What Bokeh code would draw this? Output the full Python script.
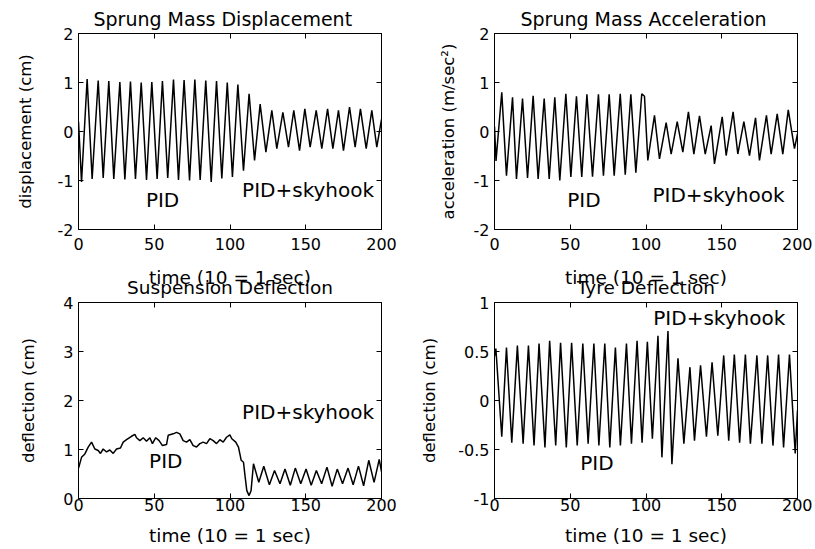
from bokeh.plotting import figure
from bokeh.models import Range1d, FixedTicker, LinearAxis, Label, Title
from bokeh.layouts import column, row
from bokeh.embed import file_html
from bokeh.resources import INLINE

FONT = "DejaVu Sans"

# ---- data (extrema of each trace) ----
disp_t = [0, 2.0, 5.7, 9.0, 13.0, 16.3, 20.0, 23.3, 27.3, 30.6, 34.3, 37.6, 41.4, 44.9, 48.4, 51.9,
          55.4, 58.9, 62.7, 66.0, 69.7, 73.3, 76.8, 80.3, 84.0, 87.6, 91.1, 94.6, 98.2, 101.6, 105.2,
          108.9, 112.6, 116.2, 119.9, 123.7, 127.6, 130.9, 134.9, 138.6, 142.1, 145.9, 149.4, 152.9,
          156.9, 160.6, 164.4, 167.9, 171.6, 174.9, 178.9, 182.6, 186.1, 189.9, 193.6, 196.9, 200]
disp_v = [0.20, -1.03, 1.07, -0.97, 1.04, -0.95, 1.03, -0.97, 1.01, -0.98, 1.02, -0.97, 1.00, -0.99,
          1.01, -0.97, 1.03, -0.95, 1.06, -0.99, 1.05, -1.00, 1.06, -0.99, 1.04, -1.03, 1.03, -0.96,
          1.00, -0.93, 0.96, -0.80, 0.77, -0.59, 0.56, -0.42, 0.43, -0.35, 0.39, -0.32, 0.43, -0.39,
          0.46, -0.32, 0.43, -0.35, 0.46, -0.35, 0.43, -0.39, 0.50, -0.32, 0.46, -0.35, 0.43, -0.32, 0.25]

acc_t = [0, 1.0, 4.8, 7.9, 11.9, 14.5, 18.5, 21.8, 25.5, 28.8, 32.8, 36.1, 39.8, 43.1, 47.1, 50.4,
         54.1, 57.6, 61.0, 64.7, 68.6, 71.9, 75.7, 79.0, 83.0, 86.3, 90.0, 93.3, 97.2, 99.0, 101.2,
         105.6, 108.9, 113.3, 116.6, 120.6, 124.3, 128.0, 131.6, 135.3, 139.1, 143.0, 145.2, 150.3,
         152.9, 157.5, 160.6, 164.6, 168.3, 172.3, 174.9, 179.5, 182.6, 186.6, 190.3, 193.9, 198.0, 200]
acc_v = [0.10, -0.60, 0.80, -0.90, 0.70, -0.97, 0.67, -0.95, 0.73, -0.97, 0.67, -0.97, 0.70, -1.00,
         0.77, -0.93, 0.72, -0.93, 0.76, -0.92, 0.76, -0.90, 0.76, -0.90, 0.77, -0.88, 0.76, -0.84,
         0.77, 0.72, -0.59, 0.33, -0.56, 0.18, -0.46, 0.20, -0.42, 0.40, -0.46, 0.32, -0.46, 0.12,
         -0.66, 0.30, -0.49, 0.40, -0.46, 0.20, -0.49, 0.28, -0.59, 0.33, -0.46, 0.36, -0.46, 0.44,
         -0.35, -0.05]

susp_t = [0, 0.5, 2.0, 4.2, 6.4, 8.6, 10.8, 13.0, 14.5, 16.3, 18.5, 20.7, 22.9, 25.1, 27.7, 29.5,
          31.7, 35.0, 37.2, 38.3, 40.5, 42.7, 44.9, 47.1, 48.8, 51.0, 53.2, 55.4, 58.1, 59.2, 62.5,
          64.7, 66.9, 69.1, 71.3, 73.5, 75.7, 77.9, 80.1, 82.3, 84.5, 86.7, 88.9, 91.1, 93.3, 95.5,
          97.7, 99.9, 101.2, 103.8, 105.6, 107.4, 108.9, 110.0, 111.1, 112.6, 113.9, 115.5, 119.0,
          122.3, 126.0, 129.4, 133.0, 136.3, 139.8, 143.1, 146.7, 150.2, 153.6, 157.0, 160.5, 164.0,
          167.4, 170.8, 174.3, 177.9, 181.3, 184.8, 188.2, 191.6, 195.1, 198.5, 200]
susp_v = [0.62, 0.67, 0.84, 0.91, 1.05, 1.15, 1.01, 0.98, 0.92, 1.01, 0.95, 0.99, 0.92, 1.01, 1.03,
          1.15, 1.20, 1.27, 1.31, 1.24, 1.18, 1.24, 1.17, 1.24, 1.12, 1.24, 1.18, 1.08, 1.10, 1.29,
          1.32, 1.35, 1.32, 1.18, 1.15, 1.20, 1.08, 1.05, 1.12, 1.15, 1.12, 1.22, 1.18, 1.12, 1.20,
          1.15, 1.25, 1.30, 1.22, 1.15, 1.05, 0.78, 0.74, 0.44, 0.16, 0.06, 0.16, 0.71, 0.33, 0.66,
          0.28, 0.57, 0.30, 0.60, 0.27, 0.62, 0.30, 0.60, 0.27, 0.57, 0.30, 0.64, 0.25, 0.60, 0.30,
          0.62, 0.28, 0.66, 0.26, 0.78, 0.33, 0.80, 0.55]

tyre_t = [0, 0.9, 4.8, 7.9, 11.4, 15.1, 18.9, 22.4, 26.1, 29.4, 33.3, 36.4, 40.4, 43.6, 47.4, 50.9,
          54.6, 58.3, 61.8, 65.6, 68.9, 72.8, 76.1, 79.8, 83.1, 87.1, 90.4, 94.1, 97.4, 100.9, 104.2,
          107.9, 110.5, 114.5, 117.1, 121.1, 125.0, 129.0, 132.0, 136.0, 139.9, 143.6, 147.4, 151.3,
          154.6, 158.3, 161.8, 165.6, 168.9, 173.2, 176.5, 180.3, 183.8, 187.5, 190.8, 194.7, 198.5, 200]
tyre_v = [0.45, 0.53, -0.37, 0.54, -0.43, 0.56, -0.44, 0.56, -0.46, 0.58, -0.48, 0.61, -0.46, 0.59,
          -0.48, 0.59, -0.46, 0.58, -0.44, 0.58, -0.46, 0.58, -0.48, 0.54, -0.46, 0.58, -0.44, 0.61,
          -0.43, 0.60, -0.39, 0.66, -0.58, 0.71, -0.65, 0.43, -0.44, 0.34, -0.41, 0.36, -0.37, 0.39,
          -0.36, 0.46, -0.41, 0.47, -0.43, 0.47, -0.44, 0.46, -0.44, 0.46, -0.46, 0.47, -0.48, 0.47,
          -0.54, -0.10]

x_ticks = [0, 50, 100, 150, 200]
x_tick_labels = ["0", "50", "100", "150", "200"]
disp_ticks = [-2, -1, 0, 1, 2]
disp_tick_labels = ["-2", "-1", "0", "1", "2"]
susp_ticks = [0, 1, 2, 3, 4]
susp_tick_labels = ["0", "1", "2", "3", "4"]
tyre_ticks = [-1, -0.5, 0, 0.5, 1]
tyre_tick_labels = ["-1", "-0.5", "0", "0.5", "1"]

titles = ["Sprung Mass Displacement", "Sprung Mass Acceleration", "Suspension Deflection", "Tyre Deflection"]
x_label = "time (10 = 1 sec)"
y_labels = ["displacement (cm)", "acceleration (m/sec²)", "deflection (cm)", "deflection (cm)"]


def blank_axis(ticks):
    return LinearAxis(ticker=FixedTicker(ticks=ticks),
                      major_label_overrides={k: "" for k in ticks},
                      major_tick_in=5, major_tick_out=0, minor_tick_line_color=None,
                      major_label_standoff=0, axis_line_color="black")


def panel(t, v, yr, yticks, ylabels, ylab, xlab, lb, rb, tb, bb, x_std, xl_std, yl_std, border):
    p = figure(frame_width=303, frame_height=196, x_range=Range1d(0, 200), y_range=Range1d(*yr),
               output_backend="svg", toolbar_location=None,
               min_border_left=lb, min_border_right=rb, min_border_top=tb, min_border_bottom=bb,
               background_fill_color="white", border_fill_color=border,
               outline_line_color="black", outline_line_width=1)
    p.grid.visible = False
    p.line(t, v, line_color="black", line_width=1.5)

    xa = p.xaxis[0]
    xa.ticker = FixedTicker(ticks=x_ticks)
    xa.major_label_overrides = {k: s for k, s in zip(x_ticks, x_tick_labels)}
    xa.axis_label = xlab
    xa.major_label_standoff = x_std
    xa.axis_label_standoff = xl_std
    xa.axis_label_text_line_height = 0.52

    ya = p.yaxis[0]
    ya.ticker = FixedTicker(ticks=yticks)
    ya.major_label_overrides = {k: s for k, s in zip(yticks, ylabels)}
    ya.axis_label = ylab
    ya.major_label_standoff = 5
    ya.axis_label_standoff = yl_std

    for a in (xa, ya):
        a.major_tick_in = 5
        a.major_tick_out = 0
        a.minor_tick_line_color = None
        a.axis_line_color = "black"
        a.major_label_text_font = FONT
        a.major_label_text_font_size = "16px"
        a.major_label_text_color = "black"
        a.axis_label_text_font = FONT
        a.axis_label_text_font_style = "normal"
        a.axis_label_text_color = "black"
    xa.axis_label_text_font_size = "18.5px"
    ya.axis_label_text_font_size = "16.5px"

    p.add_layout(blank_axis(yticks), "right")
    p.add_layout(blank_axis(x_ticks), "above")
    return p


def lab(p, x, y, text, size, align="center"):
    p.add_layout(Label(x=x, y=y, text=text, text_font=FONT, text_font_size=size,
                       text_align=align, text_baseline="middle", text_color="black"))


def title(p, text, offset):
    p.add_layout(Title(text=text, align="left", text_font=FONT, text_font_size="19px",
                       text_font_style="normal", text_color="black", standoff=7,
                       offset=offset), "above")


# the lower panels' titles share the text block under the upper panels' time axes,
# stacked as tightly as in the reference
p1 = panel(disp_t, disp_v, (-2, 2), disp_ticks, disp_tick_labels, y_labels[0],
           x_label + "\n" + titles[2], 78, 35, 33, 60, 8, 14, 20, "white")
p2 = panel(acc_t, acc_v, (-2, 2), disp_ticks, disp_tick_labels, y_labels[1],
           x_label + "\n" + titles[3], 78, 15, 33, 60, 8, 14, 13, "white")
p3 = panel(susp_t, susp_v, (0, 4), susp_ticks, susp_tick_labels, y_labels[2],
           x_label, 78, 35, 14, 47, 0, 11, 22, None)
p4 = panel(tyre_t, tyre_v, (-1, 1), tyre_ticks, tyre_tick_labels, y_labels[3],
           x_label, 78, 15, 14, 47, 0, 11, 16, None)

title(p1, titles[0], 15)
title(p2, titles[1], 26)

# in-plot annotations
lab(p1, 55.5, -1.39, "PID", "20px")
lab(p1, 108, -1.19, "PID+skyhook", "20px", "left")
lab(p2, 59.0, -1.39, "PID", "20px")
lab(p2, 104.3, -1.29, "PID+skyhook", "20px", "left")
lab(p3, 57.6, 0.76, "PID", "20px")
lab(p3, 108, 1.76, "PID+skyhook", "20px", "left")
lab(p4, 67.6, -0.64, "PID", "20px")
lab(p4, 104.8, 0.84, "PID+skyhook", "20px", "left")

layout = column(row(p1, p2), row(p3, p4, styles={"margin-top": "-13px"}))
open("out.html", "w").write(file_html(layout, INLINE))
